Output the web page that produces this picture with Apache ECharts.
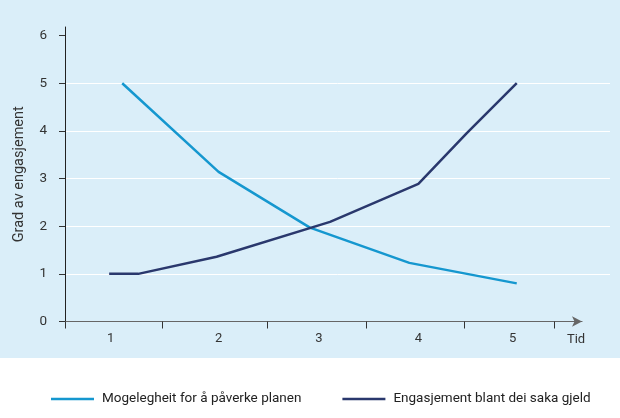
<!DOCTYPE html>
<html>
<head>
<meta charset="utf-8">
<script src="https://cdn.jsdelivr.net/npm/echarts@6/dist/echarts.min.js"></script>
<style>
html,body{margin:0;padding:0;background:#fff;}
#chart{width:620px;height:418px;background:linear-gradient(#daeef9 0,#daeef9 358px,#ffffff 358px,#ffffff 418px);}
</style>
</head>
<body>
<div id="chart"></div>
<script>
// Data
var seriesNames = ['Mogelegheit for å påverke planen', 'Engasjement blant dei saka gjeld'];
var mogelegheit = [[1.07, 5.0], [2.03, 3.14], [2.94, 1.97], [3.93, 1.23], [5.0, 0.8]];
var engasjement = [[0.94, 1.0], [1.23, 1.0], [2.01, 1.36], [3.14, 2.09], [4.02, 2.89], [4.5, 3.95], [5.0, 5.0]];
var xLabelPositions = [0.955, 2.03, 3.03, 4.02, 4.96];
var xLabels = ['1', '2', '3', '4', '5'];
var xTicks = [0.5, 1.47, 2.51, 3.5, 4.48, 5.37];
var yLabels = [0, 1, 2, 3, 4, 5, 6];
var xName = 'Tid';
var yName = 'Grad av engasjement';

var FONT = 'Roboto';
var chart = echarts.init(document.getElementById('chart'));
chart.setOption({
  backgroundColor: 'transparent',
  animation: false,
  textStyle: {fontFamily: FONT},
  grid: [
    {left: 65, right: 10, top: 27, bottom: 96.5},
    {left: 65, width: 517, top: 27, bottom: 96.5}
  ],
  legend: {
    left: 46, top: 387,
    icon: 'rect', itemWidth: 43, itemHeight: 2.5, itemGap: 41,
    textStyle: {fontFamily: FONT, fontSize: 13.5, color: '#222', padding: [0, 0, 0, 3]},
    data: seriesNames
  },
  xAxis: [
    {gridIndex: 0, type: 'value', min: 0, max: 1, show: false},
    {
      gridIndex: 1, type: 'value', min: 0.5, max: 5.65,
      name: xName, nameLocation: 'end', nameGap: -6,
      nameTextStyle: {fontFamily: FONT, fontSize: 13, color: '#333', align: 'center', verticalAlign: 'top', padding: [12, 0, 0, 0]},
      axisLine: {show: true, symbol: ['none', 'arrow'], symbolSize: [8, 10], lineStyle: {color: '#666', width: 1.2}},
      axisTick: {show: true, customValues: xTicks, length: 7, lineStyle: {color: '#333', width: 1}},
      axisLabel: {
        customValues: xLabelPositions, margin: 11, fontSize: 13, color: '#333', fontFamily: FONT,
        formatter: function (v) {
          var i = xLabelPositions.indexOf(v);
          return i >= 0 ? xLabels[i] : '';
        }
      },
      splitLine: {show: false}
    }
  ],
  yAxis: [
    {
      gridIndex: 0, type: 'value', min: 0, max: 6.18, interval: 1,
      name: yName, nameLocation: 'middle', nameGap: 38,
      nameTextStyle: {fontFamily: FONT, fontSize: 14.5, color: '#333'},
      axisLine: {show: true, lineStyle: {color: '#222', width: 1}},
      axisTick: {show: true, customValues: yLabels, length: 6, lineStyle: {color: '#333'}},
      axisLabel: {customValues: yLabels, margin: 18, fontSize: 13.5, color: '#333', fontFamily: FONT},
      splitLine: {show: true, showMinLine: false, showMaxLine: false, lineStyle: {color: '#ffffff', width: 1}}
    },
    {gridIndex: 1, type: 'value', min: 0, max: 6.18, show: false}
  ],
  series: [
    {
      name: seriesNames[0], type: 'line', xAxisIndex: 1, yAxisIndex: 1,
      data: mogelegheit, showSymbol: false, symbol: 'none',
      lineStyle: {color: '#1597cf', width: 2.5}, itemStyle: {color: '#1597cf'}
    },
    {
      name: seriesNames[1], type: 'line', xAxisIndex: 1, yAxisIndex: 1,
      data: engasjement, showSymbol: false, symbol: 'none',
      lineStyle: {color: '#2a386d', width: 2.5}, itemStyle: {color: '#2a386d'}
    }
  ]
});
</script>
</body>
</html>
